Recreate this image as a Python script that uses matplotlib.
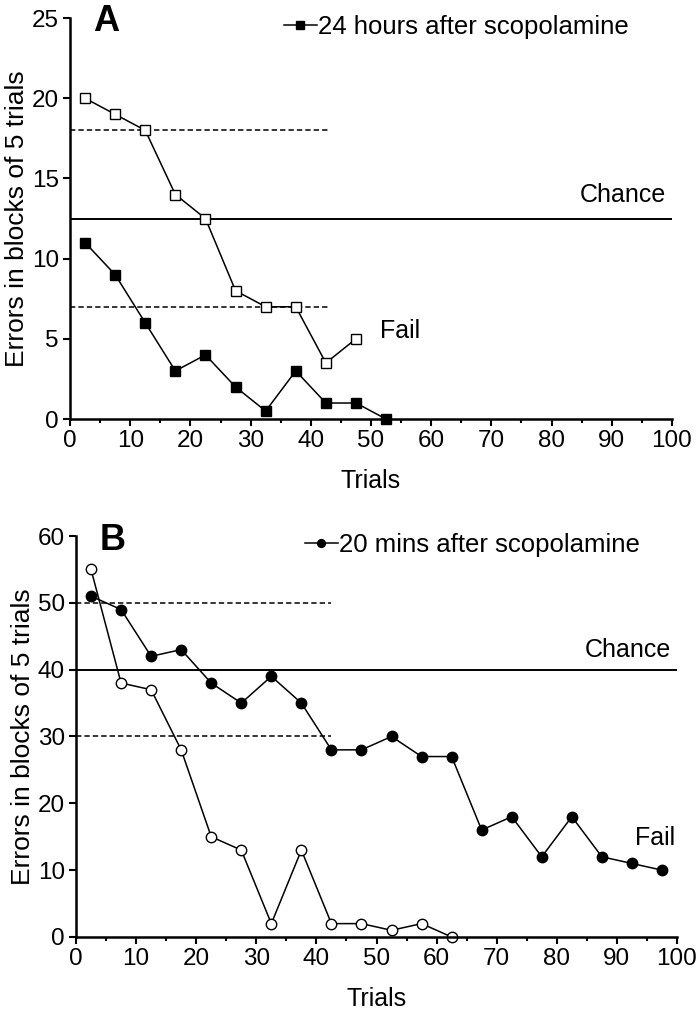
import matplotlib.pyplot as plt
import numpy as np

plt.rcParams['font.family'] = ['Liberation Sans', 'DejaVu Sans']

# trial block midpoints
trials_a_scop = [2.5, 7.5, 12.5, 17.5, 22.5, 27.5, 32.5, 37.5, 42.5, 47.5, 52.5]
errors_a_scop = [11, 9, 6, 3, 4, 2, 0.5, 3, 1, 1, 0]
trials_a_ctrl = [2.5, 7.5, 12.5, 17.5, 22.5, 27.5, 32.5, 37.5, 42.5, 47.5]
errors_a_ctrl = [20, 19, 18, 14, 12.5, 8, 7, 7, 3.5, 5]
chance_a = 12.5
criteria_a = [18, 7]

trials_b_scop = [2.5 + 5 * i for i in range(20)]
errors_b_scop = [51, 49, 42, 43, 38, 35, 39, 35, 28, 28, 30, 27, 27,
                 16, 18, 12, 18, 12, 11, 10]
trials_b_ctrl = [2.5 + 5 * i for i in range(13)]
errors_b_ctrl = [55, 38, 37, 28, 15, 13, 2, 13, 2, 2, 1, 2, 0]
chance_b = 40
criteria_b = [50, 30]

fig = plt.figure(figsize=(6.96, 10.10), dpi=100)
ax_a = fig.add_axes([0.1006, 0.5851, 0.8649, 0.3970])
ax_b = fig.add_axes([0.1092, 0.0723, 0.8635, 0.3970])

FS = 18


def style(ax, ymax, ystep):
    for s in ['top', 'right']:
        ax.spines[s].set_visible(False)
    for s in ['left', 'bottom']:
        ax.spines[s].set_linewidth(1.8)
    ax.set_xlim(0, 100)
    ax.set_ylim(0, ymax)
    ax.set_xticks(np.arange(0, 101, 10))
    ax.set_xticks(np.arange(5, 100, 10), minor=True)
    ax.set_yticks(np.arange(0, ymax + 1, ystep))
    ax.tick_params(which='major', direction='out', length=5, width=1.5,
                   labelsize=17.5, pad=3)
    ax.tick_params(which='minor', direction='out', length=3, width=1.5)
    ax.set_xlabel('Trials', fontsize=FS, labelpad=12)
    ax.set_ylabel('Errors in blocks of 5 trials', fontsize=19, labelpad=2)
    for sp in ax.spines.values():
        sp.set_clip_on(False)


def add_legend(ax, anchor):
    ax.legend(loc='upper right', bbox_to_anchor=anchor, frameon=False,
              fontsize=18.5, handlelength=1.3, handletextpad=0.05,
              borderpad=0, markerscale=0.75)


# Panel A
ax = ax_a
ax.axhline(chance_a, color='black', lw=1.4)
for c in criteria_a:
    ax.plot([0, 43], [c, c], color='black', lw=1.1, ls=(0, (3.5, 2)))
ax.plot(trials_a_ctrl, errors_a_ctrl, color='black', lw=1.1, marker='s',
        ms=7.5, mfc='white', mec='black', mew=1.0, clip_on=False)
ax.plot(trials_a_scop, errors_a_scop, color='black', lw=1.1, marker='s',
        ms=7.5, mfc='black', mec='black', clip_on=False,
        label='24 hours after scopolamine', zorder=4)
ax.text(99, 13.2, 'Chance', fontsize=FS, ha='right', va='bottom')
ax.text(51.5, 5.5, 'Fail', fontsize=FS, ha='left', va='center')
ax.text(3.8, 25.9, 'A', fontsize=26, fontweight='bold', ha='left', va='top')
style(ax, 25, 5)
add_legend(ax, (0.95, 1.04))

# Panel B
ax = ax_b
ax.axhline(chance_b, color='black', lw=1.4)
for c in criteria_b:
    ax.plot([0, 42.5], [c, c], color='black', lw=1.1, ls=(0, (3.5, 2)))
ax.plot(trials_b_ctrl, errors_b_ctrl, color='black', lw=1.1, marker='o',
        ms=7.5, mfc='white', mec='black', mew=1.0, clip_on=False)
ax.plot(trials_b_scop, errors_b_scop, color='black', lw=1.1, marker='o',
        ms=7.5, mfc='black', mec='black', clip_on=False,
        label='20 mins after scopolamine', zorder=4)
ax.text(99, 41.2, 'Chance', fontsize=FS, ha='right', va='bottom')
ax.text(93, 14.8, 'Fail', fontsize=FS, ha='left', va='center')
ax.text(4, 62, 'B', fontsize=26, fontweight='bold', ha='left', va='top')
style(ax, 60, 10)
add_legend(ax, (0.96, 1.04))

fig.savefig('out.png', dpi=100)
